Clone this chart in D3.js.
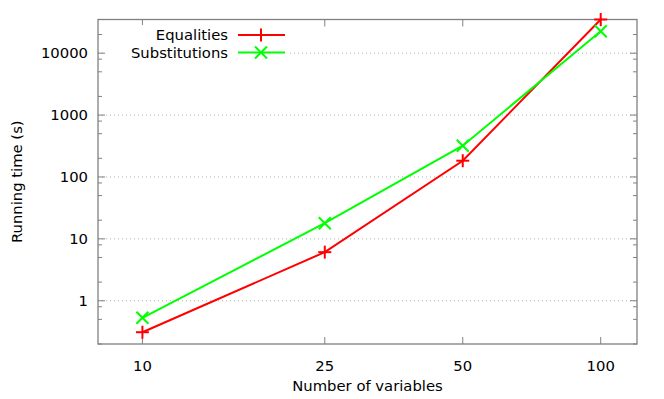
<!DOCTYPE html>
<html lang="en">
<head>
  <meta charset="UTF-8">
  <title>Running time vs number of variables</title>
  <script src="https://d3js.org/d3.v7.min.js"></script>
  <style>
    body, html { margin: 0; background: #fff; }
    text { font-family: "DejaVu Sans", sans-serif; font-size: 14.8px; fill: #000; }
  </style>
</head>
<body>
  <svg width="664" height="399"></svg>
  <script>
    // data
    const variables = [10, 25, 50, 100];
    const equalities = [0.31, 6.1, 183, 35000];
    const substitutions = [0.53, 17.9, 320, 22600];
    const yMajor = [1, 10, 100, 1000, 10000];
    const seriesNames = ["Equalities", "Substitutions"];

    const svg = d3.select("svg");
    const pLeft = 98, pRight = 637, pTop = 19.5, pBottom = 344;

    const x = d3.scaleLog().domain([8, 120]).range([pLeft, pRight]);
    const y = d3.scaleLog().domain([0.2, 35000]).range([pBottom, pTop]);

    const axisCol = "#808080";

    // horizontal dotted grid at decades
    svg.append("g").selectAll("line")
      .data(yMajor)
      .join("line")
      .attr("x1", pLeft).attr("x2", pRight)
      .attr("y1", d => y(d)).attr("y2", d => y(d))
      .attr("stroke", "#b0b0b0")
      .attr("stroke-width", 1)
      .attr("stroke-dasharray", "1,3");

    // minor y ticks (2, 5, 8 of each decade)
    const yMinor = [];
    [0.1, 1, 10, 100, 1000, 10000].forEach(b => [2, 5, 8].forEach(m => {
      const v = b * m;
      if (v >= 0.2 && v <= 35000) yMinor.push(v);
    }));

    const ticks = svg.append("g").attr("stroke", axisCol).attr("stroke-width", 1);
    yMajor.forEach(v => {
      ticks.append("line").attr("x1", pLeft).attr("x2", pLeft + 7).attr("y1", y(v)).attr("y2", y(v));
      ticks.append("line").attr("x1", pRight).attr("x2", pRight - 7).attr("y1", y(v)).attr("y2", y(v));
    });
    yMinor.forEach(v => {
      ticks.append("line").attr("x1", pLeft).attr("x2", pLeft + 4).attr("y1", y(v)).attr("y2", y(v));
      ticks.append("line").attr("x1", pRight).attr("x2", pRight - 4).attr("y1", y(v)).attr("y2", y(v));
    });
    variables.forEach(v => {
      ticks.append("line").attr("x1", x(v)).attr("x2", x(v)).attr("y1", pBottom).attr("y2", pBottom - 7);
      ticks.append("line").attr("x1", x(v)).attr("x2", x(v)).attr("y1", pTop).attr("y2", pTop + 7);
    });

    // tick labels
    svg.append("g").selectAll("text")
      .data(yMajor)
      .join("text")
      .attr("x", pLeft - 10)
      .attr("y", d => y(d))
      .attr("dy", "0.35em")
      .attr("text-anchor", "end")
      .text(d => d);

    svg.append("g").selectAll("text")
      .data(variables)
      .join("text")
      .attr("x", d => x(d))
      .attr("y", 371)
      .attr("text-anchor", "middle")
      .text(d => d);

    // axis titles
    svg.append("text")
      .attr("x", (pLeft + pRight) / 2)
      .attr("y", 391)
      .attr("text-anchor", "middle")
      .text("Number of variables");

    svg.append("text")
      .attr("transform", `translate(22,${(pTop + pBottom) / 2}) rotate(-90)`)
      .attr("text-anchor", "middle")
      .text("Running time (s)");

    // legend background hides the grid under the key
    svg.append("rect")
      .attr("x", 106).attr("y", 25).attr("width", 184).attr("height", 37)
      .attr("fill", "#fff");

    // border
    svg.append("rect")
      .attr("x", pLeft).attr("y", pTop)
      .attr("width", pRight - pLeft).attr("height", pBottom - pTop)
      .attr("fill", "none")
      .attr("stroke", axisCol)
      .attr("stroke-width", 1.3);

    const colors = ["#ff0000", "#00ff00"];
    const seriesData = [equalities, substitutions];

    const plus = (g, cx, cy, s) => {
      g.append("line").attr("x1", cx - s).attr("x2", cx + s).attr("y1", cy).attr("y2", cy);
      g.append("line").attr("x1", cx).attr("x2", cx).attr("y1", cy - s).attr("y2", cy + s);
    };
    const cross = (g, cx, cy, s) => {
      g.append("line").attr("x1", cx - s).attr("x2", cx + s).attr("y1", cy - s).attr("y2", cy + s);
      g.append("line").attr("x1", cx - s).attr("x2", cx + s).attr("y1", cy + s).attr("y2", cy - s);
    };
    const markers = [(g, cx, cy) => plus(g, cx, cy, 6.5), (g, cx, cy) => cross(g, cx, cy, 6)];

    const line = d3.line().x(d => x(d[0])).y(d => y(d[1]));

    seriesData.forEach((vals, i) => {
      const pts = variables.map((v, j) => [v, vals[j]]);
      const g = svg.append("g").attr("stroke", colors[i]).attr("stroke-width", 2).attr("fill", "none");
      g.append("path").attr("d", line(pts));
      pts.forEach(p => markers[i](g, x(p[0]), y(p[1])));

      // legend entry
      const ly = 35 + i * 17.5;
      svg.append("text")
        .attr("x", 228).attr("y", ly)
        .attr("dy", "0.35em")
        .attr("text-anchor", "end")
        .text(seriesNames[i]);
      const lg = svg.append("g").attr("stroke", colors[i]).attr("stroke-width", 2);
      lg.append("line").attr("x1", 238).attr("x2", 285).attr("y1", ly).attr("y2", ly);
      markers[i](lg, 261, ly);
    });
  </script>
</body>
</html>
